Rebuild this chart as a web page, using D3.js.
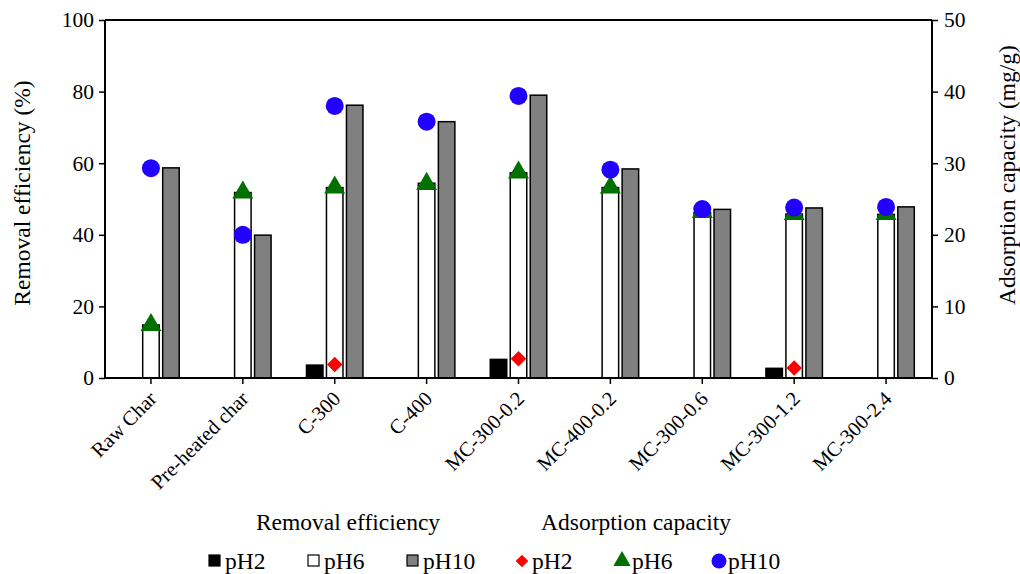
<!DOCTYPE html>
<html><head><meta charset="utf-8">
<script src="https://cdn.jsdelivr.net/npm/d3@7"></script>
<style>body{margin:0;background:#fff}svg{display:block}text{font-family:"Liberation Serif","Times New Roman",serif;fill:#000}</style>
</head><body>
<svg id="c" width="1020" height="574"></svg>
<script>
const categories = ["Raw Char","Pre-heated char","C-300","C-400","MC-300-0.2","MC-400-0.2","MC-300-0.6","MC-300-1.2","MC-300-2.4"];
// Removal efficiency (%) bars
const rePH2  = [null, null, 3.6, null, 5.2, null, null, 2.7, null];
const rePH6  = [14.8, 51.8, 53.2, 54.4, 57.3, 53.2, 46.2, 45.8, 45.7];
const rePH10 = [58.7, 39.9, 76.2, 71.6, 79.0, 58.4, 47.1, 47.5, 47.8];
// Adsorption capacity (mg/g) markers
const acPH2  = [null, null, 1.9, null, 2.7, null, null, 1.4, null];
const acPH6  = [7.4, 25.9, 26.6, 27.1, 28.7, 26.6, 23.2, 22.9, 22.9];
const acPH10 = [29.3, 20.0, 38.0, 35.8, 39.4, 29.1, 23.6, 23.8, 23.9];
const leftTicks = [0,20,40,60,80,100];
const rightTicks = [0,10,20,30,40,50];

const FF = '"Liberation Serif","Times New Roman",serif';
const svg = d3.select("#c");
const L=105, R=932, T=20, B=378;
const x = d3.scaleBand().domain(categories).range([L,R]).padding(0);
const yL = d3.scaleLinear().domain([0,100]).range([B,T]);
const yR = d3.scaleLinear().domain([0,50]).range([B,T]);
const bw = 16.5;

// frame top line
svg.append("line").attr("x1",L).attr("x2",R).attr("y1",T).attr("y2",T).attr("stroke","#000").attr("stroke-width",2);

const barSeries = [
  {k:"pH2", vals:rePH2, fill:"#000"},
  {k:"pH6", vals:rePH6, fill:"#fff"},
  {k:"pH10", vals:rePH10, fill:"#808080"}
];
const offs = {pH2:-20, pH6:0, pH10:20};
barSeries.forEach(s=>{
  svg.append("g").selectAll("rect").data(categories.map((c,i)=>({c,v:s.vals[i]})).filter(d=>d.v!=null))
    .join("rect")
    .attr("x",d=>x(d.c)+x.bandwidth()/2+offs[s.k]-bw/2)
    .attr("width",bw)
    .attr("y",d=>yL(d.v))
    .attr("height",d=>B-yL(d.v))
    .attr("fill",s.fill).attr("stroke","#000").attr("stroke-width",1.5);
});

// axes
const gL = svg.append("g").attr("transform",`translate(${L},0)`)
  .call(d3.axisLeft(yL).tickValues(leftTicks).tickSize(6).tickPadding(5));
const gR = svg.append("g").attr("transform",`translate(${R},0)`)
  .call(d3.axisRight(yR).tickValues(rightTicks).tickSize(6).tickPadding(6));
const gB = svg.append("g").attr("transform",`translate(0,${B})`)
  .call(d3.axisBottom(x).tickSize(6).tickSizeOuter(0));
[gL,gR,gB].forEach(g=>{
  g.attr("font-family",FF);
  g.select(".domain").attr("stroke","#000").attr("stroke-width",2);
  g.selectAll(".tick line").attr("stroke","#000").attr("stroke-width",1.5);
  g.selectAll("text").style("font-family",FF).style("font-size","21.5px").attr("fill","#000");
});
gL.select(".domain").attr("d",`M0,${T}V${B}`);
gR.select(".domain").attr("d",`M0,${T}V${B}`);
gB.select(".domain").attr("d",`M${L},0H${R}`);
gB.selectAll(".tick text").attr("text-anchor","end").attr("dy",null).attr("y",0)
  .attr("transform","translate(7,22) rotate(-45)").style("font-size","20.5px");

// markers
const mx = d=>x(d.c)+x.bandwidth()/2;
svg.append("g").selectAll("path").data(categories.map((c,i)=>({c,v:acPH2[i]})).filter(d=>d.v!=null))
  .join("path").attr("d",d3.symbol(d3.symbolSquare, 120))
  .attr("transform",d=>`translate(${mx(d)},${yR(d.v)}) rotate(45)`).attr("fill","#ff0000");
svg.append("g").selectAll("path").data(categories.map((c,i)=>({c,v:acPH6[i]})).filter(d=>d.v!=null))
  .join("path").attr("d",d3.symbol(d3.symbolTriangle, 190))
  .attr("transform",d=>`translate(${mx(d)},${yR(d.v)})`).attr("fill","#007000");
svg.append("g").selectAll("circle").data(categories.map((c,i)=>({c,v:acPH10[i]})).filter(d=>d.v!=null))
  .join("circle").attr("cx",mx).attr("cy",d=>yR(d.v)).attr("r",9).attr("fill","#2200ff");

// axis titles
svg.append("text").attr("transform",`translate(30,193) rotate(-90)`).attr("text-anchor","middle")
  .style("font-size","23.5px").text("Removal efficiency (%)");
svg.append("text").attr("transform",`translate(1015,175) rotate(-90)`).attr("text-anchor","middle")
  .style("font-size","23.5px").text("Adsorption capacity (mg/g)");

// legend
svg.append("text").attr("x",348).attr("y",530).attr("text-anchor","middle").style("font-size","23.5px").text("Removal efficiency");
svg.append("text").attr("x",636).attr("y",530).attr("text-anchor","middle").style("font-size","23.5px").text("Adsorption capacity");
const ly = 561;
const leg = svg.append("g");
[{x:209,fill:"#000",t:"pH2"},{x:308,fill:"#fff",t:"pH6"},{x:407,fill:"#808080",t:"pH10"}].forEach(d=>{
  leg.append("rect").attr("x",d.x).attr("y",ly-6).attr("width",11).attr("height",11).attr("fill",d.fill).attr("stroke","#000").attr("stroke-width",1.2);
  leg.append("text").attr("x",d.x+16).attr("y",ly+8).style("font-size","23.5px").text(d.t);
});
leg.append("path").attr("d",d3.symbol(d3.symbolSquare,80)).attr("transform",`translate(522,${ly}) rotate(45)`).attr("fill","#ff0000");
leg.append("text").attr("x",532).attr("y",ly+8).style("font-size","23.5px").text("pH2");
leg.append("path").attr("d",d3.symbol(d3.symbolTriangle,130)).attr("transform",`translate(622,${ly})`).attr("fill","#007000");
leg.append("text").attr("x",632).attr("y",ly+8).style("font-size","23.5px").text("pH6");
leg.append("circle").attr("cx",719).attr("cy",ly).attr("r",7.5).attr("fill","#2200ff");
leg.append("text").attr("x",728).attr("y",ly+8).style("font-size","23.5px").text("pH10");
</script>
</body></html>
